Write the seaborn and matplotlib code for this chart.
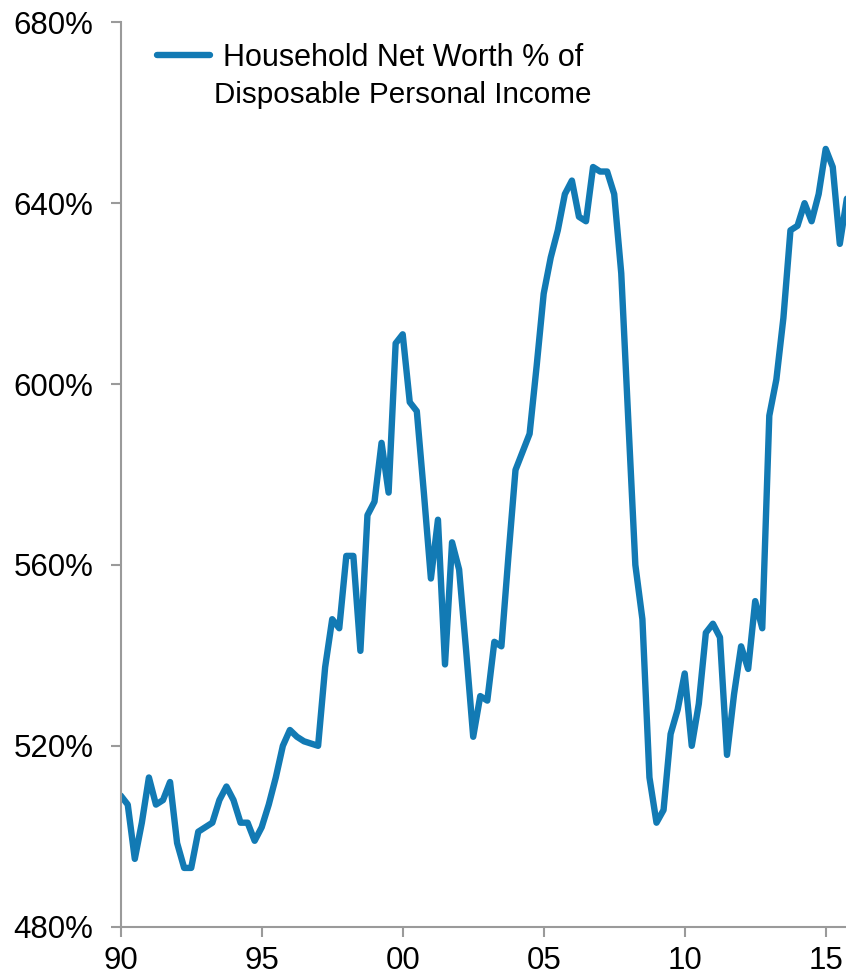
import numpy as np
import pandas as pd
import matplotlib
matplotlib.use("Agg")
import matplotlib.pyplot as plt
import seaborn as sns
from matplotlib.ticker import FuncFormatter

# Household net worth as % of disposable personal income, quarterly 1990Q1-2015Q4
net_worth_pct = [
    509, 507, 495, 503,        # 1990
    513, 507, 508, 512,        # 1991
    498.5, 493, 493, 501,      # 1992
    502, 503, 508, 511,        # 1993
    508, 503, 503, 499,        # 1994
    502, 507, 513, 520,        # 1995
    523.5, 522, 521, 520.5,    # 1996
    520, 537.4, 548, 546,      # 1997
    562, 562, 541, 571,        # 1998
    574, 587, 576, 609,        # 1999
    611, 596, 594, 576,        # 2000
    557, 570, 538, 565,        # 2001
    559, 541, 522, 531,        # 2002
    530, 543, 542, 562,        # 2003
    581, 585, 589, 604,        # 2004
    620, 628, 634, 642,        # 2005
    645, 637, 636, 648,        # 2006
    647, 647, 642, 624.5,      # 2007
    592, 560, 548, 513,        # 2008
    503, 505.8, 522.6, 528,    # 2009
    536, 520, 529.3, 545,      # 2010
    547, 544, 518, 531.4,      # 2011
    542, 537, 552, 546,        # 2012
    593, 601, 614.6, 634,      # 2013
    635, 640, 636, 642,        # 2014
    652, 648, 631, 641,        # 2015
]
start_year = 1990
quarter_dates = [start_year + q / 4 for q in range(len(net_worth_pct))]

series_label_top = "Household Net Worth % of"
series_label_bottom = "Disposable Personal Income"

tick_years = [1990, 1995, 2000, 2005, 2010, 2015]
tick_labels = ["90", "95", "00", "05", "10", "15"]
y_ticks = [480, 520, 560, 600, 640, 680]

df = pd.DataFrame({"date": quarter_dates, "value": net_worth_pct})

sns.set_theme(style="white")
plt.rcParams["font.family"] = ["Liberation Sans", "DejaVu Sans"]
plt.rcParams["text.color"] = "black"

line_color = "#127AB4"
axis_gray = "#9A9A9A"

W, H = 846, 980
fig = plt.figure(figsize=(W / 100, H / 100), dpi=100)
ax_left, ax_top, ax_bottom = 120.7, 22.3, 926.7
ax = fig.add_axes([ax_left / W, (H - ax_bottom) / H, 1 - ax_left / W, (ax_bottom - ax_top) / H])

sns.lineplot(data=df, x="date", y="value", ax=ax, color=line_color,
             linewidth=4.6, label=series_label_top)

ax.set_xlim(1990, 1990 + (W - ax_left) / ((825.7 - 120.7) / 25))
ax.set_ylim(480, 680)
ax.set_xticks(tick_years)
ax.set_xticklabels(tick_labels)
ax.set_yticks(y_ticks)
ax.yaxis.set_major_formatter(FuncFormatter(lambda v, _: f"{v:.0f}%"))
ax.set_xlabel("")
ax.set_ylabel("")

for side in ("top", "right"):
    ax.spines[side].set_visible(False)
for side in ("left", "bottom"):
    ax.spines[side].set_color(axis_gray)
    ax.spines[side].set_linewidth(1.5)

ax.tick_params(axis="both", which="major", direction="out", length=7.5,
               width=1.5, color=axis_gray, labelsize=22.5, labelcolor="black",
               bottom=True, left=True)
ax.tick_params(axis="y", pad=12)
ax.tick_params(axis="x", pad=6.5)

leg = ax.legend(loc="upper left", bbox_to_anchor=(157 / W, 1 - 43 / H),
                bbox_transform=fig.transFigure, frameon=False, fontsize=22,
                borderpad=0, borderaxespad=0, handlelength=1.74,
                handletextpad=0.42)
for h in leg.get_lines():
    h.set_linewidth(4.6)
for t in leg.get_texts():
    t.set_color("black")

# second line of the series label, centred under the first
fig.canvas.draw()
renderer = fig.canvas.get_renderer()
bb = leg.get_texts()[0].get_window_extent(renderer)
cx = (bb.x0 + bb.x1) / 2
cy = (bb.y0 + bb.y1) / 2 - 37.5
fig.text(cx / W, cy / H, series_label_bottom, ha="center", va="center",
         fontsize=21.3, color="black")

fig.savefig("out.png", dpi=100)
